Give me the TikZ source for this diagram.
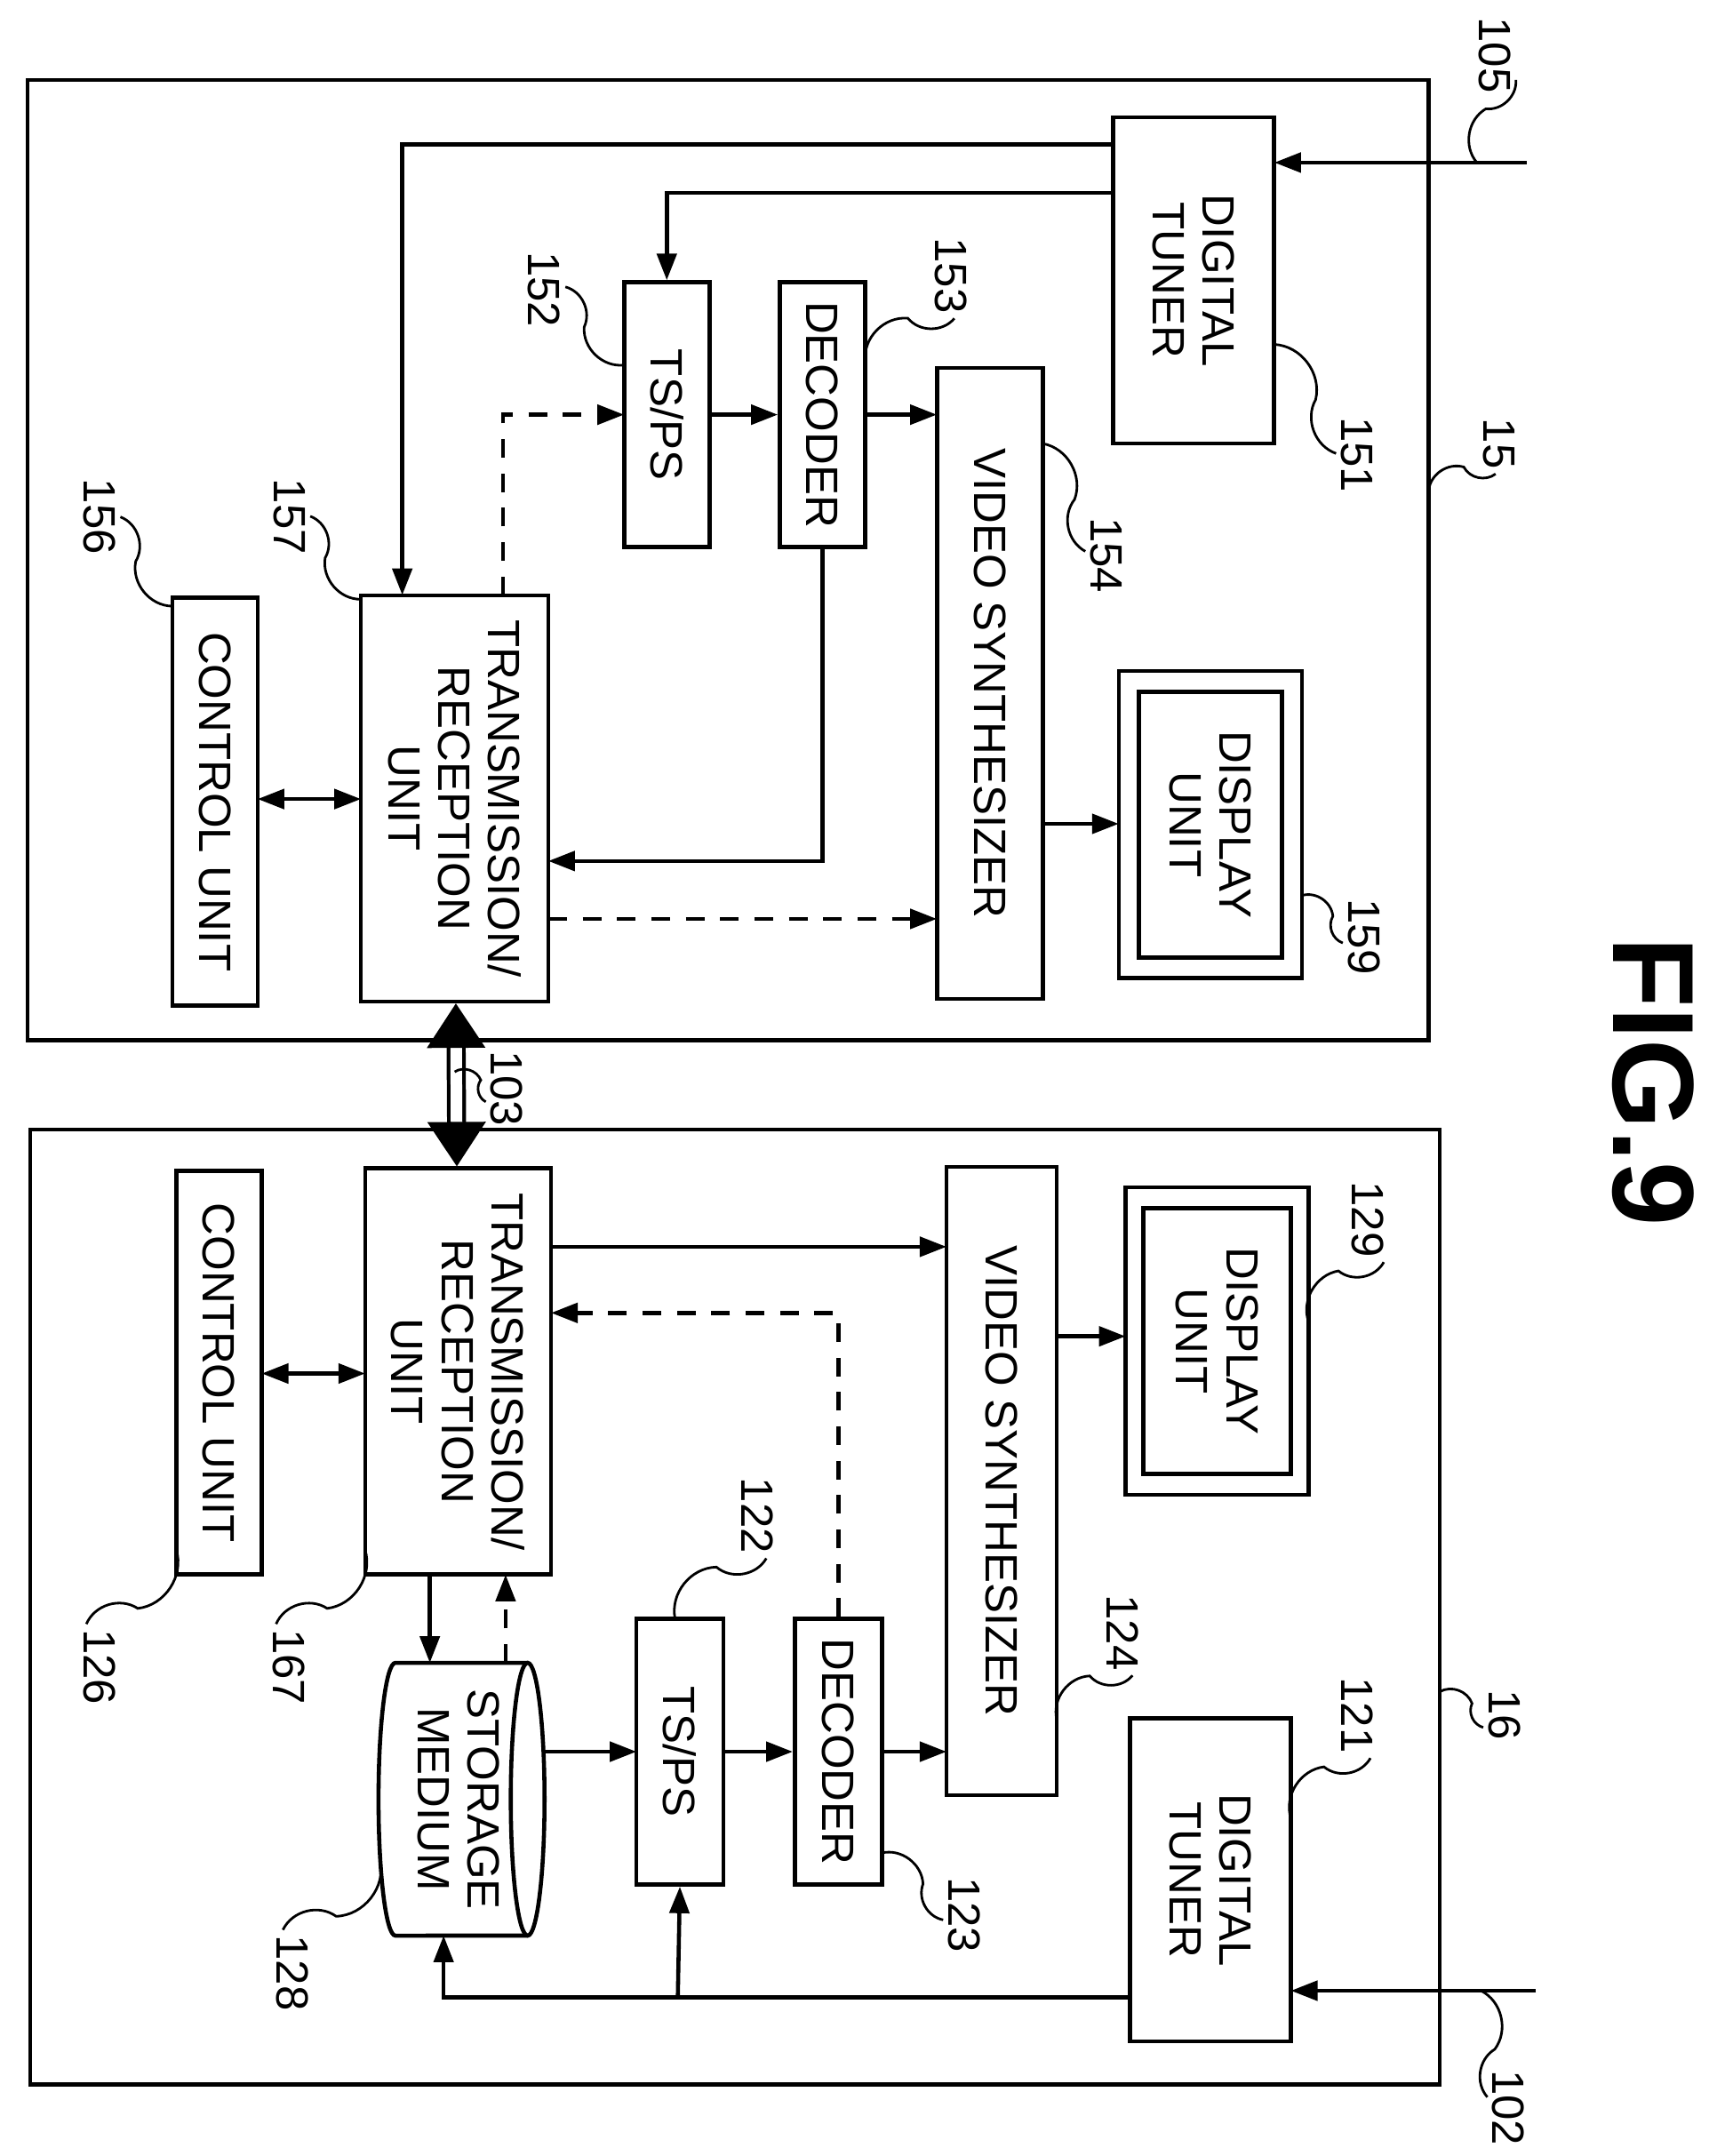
\documentclass[tikz,border=0pt]{standalone}
\usepackage{fontspec}
\setmainfont{Liberation Sans}
\usetikzlibrary{arrows.meta,calc}
\begin{document}
\begin{tikzpicture}[x=0.0155cm,y=-0.0155cm,
    line width=1.3pt,
    font=\fontsize{14.5}{16}\selectfont,
    % rotated block
    block/.style={draw, rectangle, rotate=-90, align=center, inner sep=2pt},
    num/.style={rotate=-90, inner sep=1pt},
    arr/.style={-{Triangle[length=0.3cm,width=0.22cm]}},
    darr/.style={{Triangle[length=0.3cm,width=0.22cm]}-{Triangle[length=0.3cm,width=0.22cm]}},
    dasharr/.style={arr, dash pattern=on 6pt off 5pt},
    lead/.style={line width=0.8pt}
]
\newcommand{\squig}[2]{\draw[lead] (#1) to[bend left=50] ($(#1)!.5!(#2)$) to[bend right=50] (#2);}
\useasboundingbox (0,0) rectangle (1240,1565);

% outer frames
\draw (20,58) rectangle (1037,755);
\draw (22,820) rectangle (1045,1513);

% upper apparatus (15)
\node[block, minimum width=3.67cm, minimum height=1.81cm] (tuner1) at (866.5,203.5) {DIGITAL\\TUNER};
\node[block, minimum width=2.98cm, minimum height=0.96cm] (tsps1) at (484,301) {TS/PS};
\node[block, minimum width=2.98cm, minimum height=0.96cm] (dec1) at (597,301) {DECODER};
\node[block, minimum width=7.10cm, minimum height=1.19cm] (vs1) at (718.5,496) {VIDEO SYNTHESIZER};
\node[block, minimum width=3.46cm, minimum height=2.06cm] (disp1) at (878.5,598.5) {};
\node[block, minimum width=2.99cm, minimum height=1.61cm] at (disp1.center) {DISPLAY\\UNIT};
\node[block, minimum width=4.57cm, minimum height=2.11cm] (trx1) at (330,579.5) {TRANSMISSION/\\RECEPTION\\UNIT};
\node[block, minimum width=4.59cm, minimum height=0.96cm] (ctl1) at (156,582) {CONTROL UNIT};

% lower apparatus (16)
\node[block, minimum width=4.57cm, minimum height=2.09cm] (trx2) at (332.5,995.5) {TRANSMISSION/\\RECEPTION\\UNIT};
\node[block, minimum width=4.54cm, minimum height=0.96cm] (ctl2) at (159,996.5) {CONTROL UNIT};
\node[block, minimum width=7.07cm, minimum height=1.24cm] (vs2) at (727,1075) {VIDEO SYNTHESIZER};
\node[block, minimum width=3.46cm, minimum height=2.06cm] (disp2) at (883.5,973.5) {};
\node[block, minimum width=2.99cm, minimum height=1.66cm] at (disp2.center) {DISPLAY\\UNIT};
\node[block, minimum width=2.99cm, minimum height=0.98cm] (tsps2) at (493.5,1271.5) {TS/PS};
\node[block, minimum width=2.99cm, minimum height=0.98cm] (dec2) at (608.5,1271.5) {DECODER};
\node[block, minimum width=3.64cm, minimum height=1.81cm] (tuner2) at (878.5,1364.5) {DIGITAL\\TUNER};
% storage medium (cylinder lying on its side)
\node[rotate=-90, align=center] (stor) at (333,1306) {STORAGE\\MEDIUM};
\draw (383,1207) -- (287,1207) arc[start angle=90, end angle=270, x radius=0.19cm, y radius=1.535cm]
      -- (383,1405);
\draw (383,1306) ellipse[x radius=0.19cm, y radius=1.535cm];

% upper connections
\coordinate (in1) at (1108,118);
\coordinate (in2) at (1115,1445);
\draw[arr] (in1) -- (925,118);
\draw[arr] (808,105) -| (292,432);
\draw[arr] (808,140) -| (tsps1.west);
\draw[arr] (tsps1) -- (dec1);
\draw[arr] (628,301) -- (680,301);
\draw[dasharr] (365,432) |- (453,301);
\draw[arr] (dec1.east) |- (398,625);
\draw[dasharr] (398,667) -- (680,667);
\draw[arr] (757,598) -- (812,598);
\draw[darr] (187,580) -- (262,580);

% link 103
\draw[double, double distance=0.13cm, line width=1.2pt,
      {Triangle[length=0.5cm,width=0.65cm]}-{Triangle[length=0.5cm,width=0.65cm]}] (trx1) -- (trx2);

% lower connections
\draw[arr] (in2) -- (937,1445);
\draw[arr] (820,1450) -| (322,1405);
\draw[arr] (492,1450) -- (tsps2.east);
\draw[arr] (395,1271.5) -- (462,1271.5);
\draw[arr] (tsps2) -- (dec2);
\draw[arr] (640,1271.5) -- (687,1271.5);
\draw[dasharr] (dec2.west) |- (400,953);
\draw[arr] (400,905) -- (687,905);
\draw[arr] (767,970) -- (817,970);
\draw[darr] (190,997) -- (265,997);
\draw[arr] (312,1143) -- (312,1207);
\draw[dasharr] (367,1207) -- (367,1143);

% reference numerals
\node[num] (l105) at (1085,40) {105};
\node[num] (l15) at (1088,322) {15};
\node[num] (l151) at (985,330) {151};
\node[num] (l152) at (395,210) {152};
\node[num] (l153) at (690,200) {153};
\node[num] (l154) at (803,403) {154};
\node[num] (l157) at (210,375) {157};
\node[num] (l156) at (72,375) {156};
\node[num] (l159) at (990,680) {159};
\node[num] (l103) at (368,790) {103};
\node[num] (l129) at (993,885) {129};
\node[num] (l16) at (1092,1245) {16};
\node[num] (l121) at (985,1245) {121};
\node[num] (l124) at (815,1185) {124};
\node[num] (l122) at (550,1100) {122};
\node[num] (l167) at (210,1210) {167};
\node[num] (l126) at (72,1210) {126};
\node[num] (l123) at (700,1390) {123};
\node[num] (l128) at (212,1432) {128};
\node[num] (l102) at (1095,1530) {102};
\node[rotate=-90, font=\fontsize{37}{40}\selectfont\bfseries] (fig) at (1200,785) {FIG.9};

\squig{l105}{1072,118}
\squig{l15}{1037,356}
\squig{l151}{925,250}
\squig{l152}{453,265}
\squig{l153}{628,262}
\squig{l154}{757,322}
\squig{l157}{262,435}
\squig{l156}{125,440}
\squig{l159}{945,650}
\squig{l103}{330,778}
\squig{l129}{950,960}
\squig{l16}{1045,1228}
\squig{l121}{937,1320}
\squig{l124}{767,1248}
\squig{l122}{490,1175}
\squig{l167}{265,1125}
\squig{l126}{128,1125}
\squig{l123}{640,1345}
\squig{l128}{276,1350}
\squig{l102}{1075,1445}
\end{tikzpicture}
\end{document}
